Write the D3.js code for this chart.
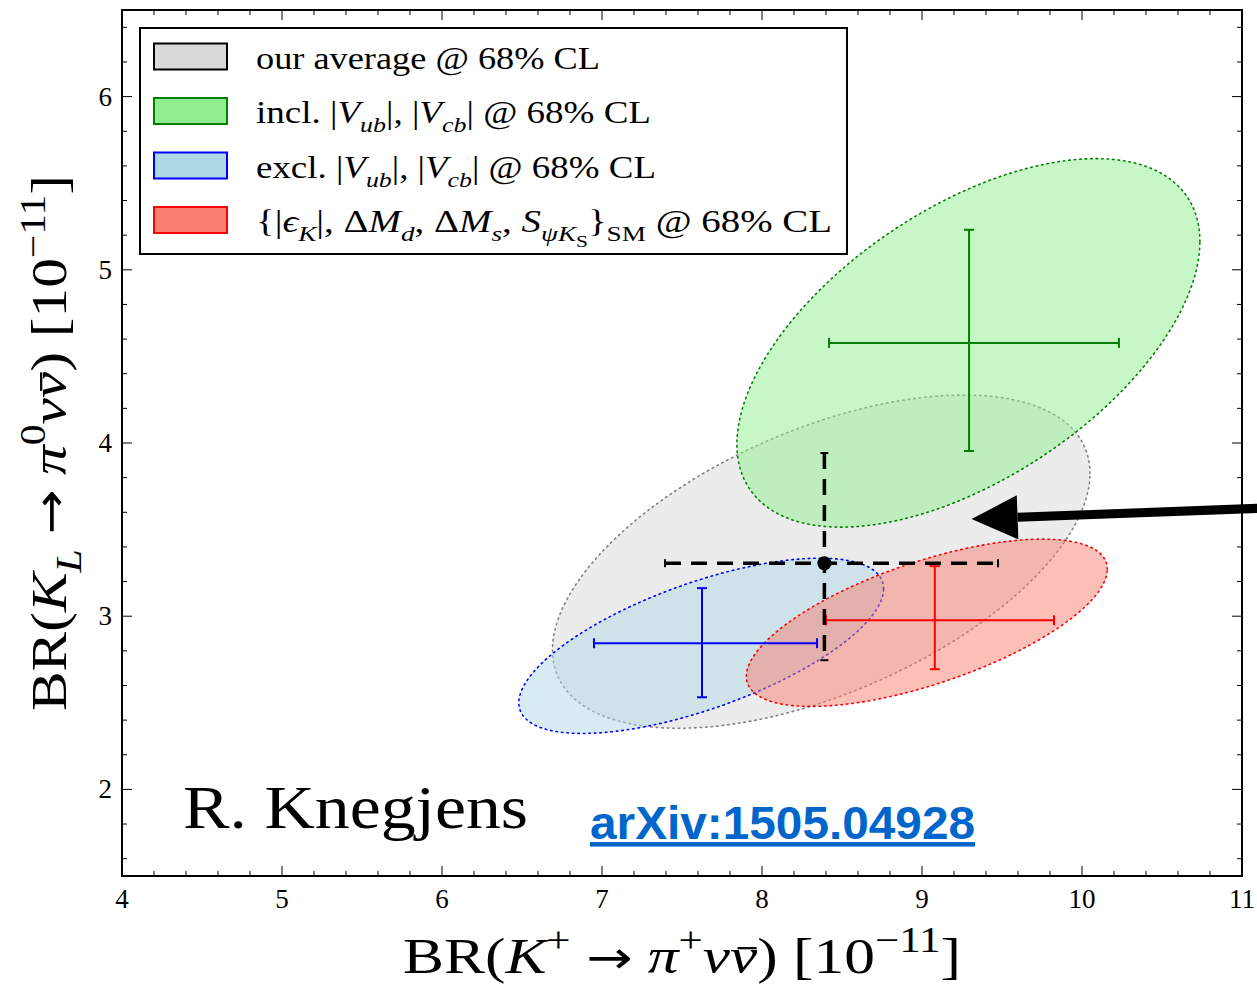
<!DOCTYPE html>
<html>
<head>
<meta charset="utf-8">
<script src="https://cdn.jsdelivr.net/npm/d3@7"></script>
<style>
  body { margin: 0; background: #fff; }
  svg { display: block; }
</style>
</head>
<body>
<svg id="chart" width="1257" height="986"></svg>
<script>
// ---- data ----
// ellipses (68% CL regions): center, half-extent in x / y, correlation
var ellNames = ['average', 'incl', 'excl', 'sm'];
var ellCx = [8.37, 9.29, 7.62, 9.03];
var ellCy = [3.315, 4.578, 2.829, 2.962];
var ellHx = [1.68, 1.447, 1.14, 1.128];
var ellHy = [0.962, 1.064, 0.506, 0.483];
var ellRho = [0.53, 0.55, 0.65, 0.64];

// central values with error bars (incl, excl, sm)
var ptX = [9.294, 7.625, 9.08];
var ptY = [4.578, 2.844, 2.977];
var ptXlo = [8.419, 6.95, 8.40];
var ptXhi = [10.231, 8.344, 9.825];
var ptYlo = [3.954, 2.532, 2.694];
var ptYhi = [5.231, 3.162, 3.289];

// our average (dashed error bars + dot)
var avgX = 8.39, avgY = 3.306;
var avgXlo = 7.394, avgXhi = 9.475;
var avgYlo = 2.746, avgYhi = 3.942;

// arrow annotation (data coordinates, tail lies outside the axes)
var arrowTip = [9.31, 3.561];
var arrowTail = [11.6, 3.64];

var xTicks = [4, 5, 6, 7, 8, 9, 10, 11];
var yTicks = [2, 3, 4, 5, 6];

// legend labels as [text, style] pieces: n normal, i italic, s subscript italic, r subscript roman,
// rr sub-sub roman, p superscript, a arrow, b italic char with a bar
var legendLabels = [
    [['our average @ 68% CL', 'n']],
    [['incl. |', 'n'], ['V', 'i'], ['ub', 's'], ['|, |', 'n'], ['V', 'i'], ['cb', 's'], ['| @ 68% CL', 'n']],
    [['excl. |', 'n'], ['V', 'i'], ['ub', 's'], ['|, |', 'n'], ['V', 'i'], ['cb', 's'], ['| @ 68% CL', 'n']],
    [['{|', 'n'], ['\u03f5', 'i'], ['K', 's'], ['|, \u0394', 'n'], ['M', 'i'], ['d', 's'], [', \u0394', 'n'], ['M', 'i'], ['s', 's'],
     [', ', 'n'], ['S', 'i'], ['\u03c8K', 's'], ['S', 'rr'], ['}', 'n'], ['SM', 'r'], [' @ 68% CL', 'n']]
];
var legendWidths = [344, 395, 400, 576];

var xLabel = [['BR(', 'n'], ['K', 'i'], ['+', 'p'], [' ', 'n'], ['\u2192', 'a'], [' ', 'n'], ['\u03c0', 'i'], ['+', 'p'],
    ['\u03bd', 'i'], ['\u03bd', 'b'], [') [10', 'n'], ['\u221211', 'p'], [']', 'n']];
var yLabel = [['BR(', 'n'], ['K', 'i'], ['L', 's'], [' ', 'n'], ['\u2192', 'a'], [' ', 'n'], ['\u03c0', 'i'], ['0', 'p'],
    ['\u03bd', 'i'], ['\u03bd', 'b'], [') [10', 'n'], ['\u221211', 'p'], [']', 'n']];

var fills = ['#d9d9d9', '#90ee90', '#add8e6', '#fa8072'];
var edges = ['#808080', '#008000', '#0000ff', '#ff0000'];
var legendEdges = ['#000000', '#008000', '#0000ff', '#ff0000'];
var barColors = ['#008000', '#0000ff', '#ff0000'];

// ---- layout ----
var svg = d3.select('#chart');
var serif = '"Liberation Serif", "DejaVu Serif", serif';

var x = d3.scaleLinear().domain([4, 11]).range([122, 1242]);
var y = d3.scaleLinear().domain([1.5, 6.5]).range([876, 10]);

// ellipses
var line = d3.line().curve(d3.curveLinearClosed);
var ellG = svg.append('g');
ellNames.forEach(function (key, i) {
    var pts = d3.range(0, 2 * Math.PI, Math.PI / 90).map(function (t) {
        var dx = ellHx[i] * Math.cos(t);
        var dy = ellHy[i] * (ellRho[i] * Math.cos(t) + Math.sqrt(1 - ellRho[i] * ellRho[i]) * Math.sin(t));
        return [x(ellCx[i] + dx), y(ellCy[i] + dy)];
    });
    ellG.append('path')
        .attr('d', line(pts))
        .attr('fill', fills[i])
        .attr('fill-opacity', 0.5)
        .attr('stroke', edges[i])
        .attr('stroke-width', 1.6)
        .attr('stroke-dasharray', '1.5,4')
        .attr('stroke-linecap', 'round');
});

// colored error bars
var barG = svg.append('g');
var cap = 5;
ptX.forEach(function (v, i) {
    var g = barG.append('g').attr('stroke', barColors[i]).attr('stroke-width', 2);
    g.append('line').attr('x1', x(ptXlo[i])).attr('x2', x(ptXhi[i])).attr('y1', y(ptY[i])).attr('y2', y(ptY[i]));
    g.append('line').attr('x1', x(v)).attr('x2', x(v)).attr('y1', y(ptYlo[i])).attr('y2', y(ptYhi[i]));
    [ptXlo[i], ptXhi[i]].forEach(function (e) {
        g.append('line').attr('x1', x(e)).attr('x2', x(e)).attr('y1', y(ptY[i]) - cap).attr('y2', y(ptY[i]) + cap);
    });
    [ptYlo[i], ptYhi[i]].forEach(function (e) {
        g.append('line').attr('x1', x(v) - cap).attr('x2', x(v) + cap).attr('y1', y(e)).attr('y2', y(e));
    });
});

// our average: dashed bars and dot
var avgG = svg.append('g').attr('stroke', '#000').attr('stroke-width', 3.5);
avgG.append('line').attr('x1', x(avgXlo)).attr('x2', x(avgXhi)).attr('y1', y(avgY)).attr('y2', y(avgY))
    .attr('stroke-dasharray', '16,10');
avgG.append('line').attr('x1', x(avgX)).attr('x2', x(avgX)).attr('y1', y(avgYhi)).attr('y2', y(avgYlo))
    .attr('stroke-dasharray', '16,10');
[avgXlo, avgXhi].forEach(function (e) {
    avgG.append('line').attr('x1', x(e)).attr('x2', x(e)).attr('y1', y(avgY) - 4).attr('y2', y(avgY) + 4).attr('stroke-width', 2);
});
[avgYlo, avgYhi].forEach(function (e) {
    avgG.append('line').attr('x1', x(avgX) - 4).attr('x2', x(avgX) + 4).attr('y1', y(e)).attr('y2', y(e)).attr('stroke-width', 2);
});
svg.append('circle').attr('cx', x(avgX)).attr('cy', y(avgY)).attr('r', 7).attr('fill', '#000');

// frame and ticks (inward, on all four sides)
var frame = svg.append('g');
frame.append('rect')
    .attr('x', x(4)).attr('y', y(6.5))
    .attr('width', x(11) - x(4)).attr('height', y(1.5) - y(6.5))
    .attr('fill', 'none').attr('stroke', '#000').attr('stroke-width', 2);

var xMinor = d3.range(4, 11.001, 0.2);
var yMinor = d3.range(1.6, 6.5, 0.2);
var tickG = frame.append('g').attr('stroke', '#000').attr('stroke-width', 1);
xMinor.forEach(function (v) {
    var major = Math.abs(v - Math.round(v)) < 1e-6;
    var len = major ? 10 : 5;
    tickG.append('line').attr('x1', x(v)).attr('x2', x(v)).attr('y1', y(1.5)).attr('y2', y(1.5) - len);
    tickG.append('line').attr('x1', x(v)).attr('x2', x(v)).attr('y1', y(6.5)).attr('y2', y(6.5) + len);
});
yMinor.forEach(function (v) {
    var major = Math.abs(v - Math.round(v)) < 1e-6;
    var len = major ? 10 : 5;
    tickG.append('line').attr('x1', x(4)).attr('x2', x(4) + len).attr('y1', y(v)).attr('y2', y(v));
    tickG.append('line').attr('x1', x(11)).attr('x2', x(11) - len).attr('y1', y(v)).attr('y2', y(v));
});

svg.append('g').selectAll('text').data(xTicks).enter().append('text')
    .attr('x', function (d) { return x(d); })
    .attr('y', y(1.5) + 32)
    .attr('text-anchor', 'middle')
    .attr('font-family', serif).attr('font-size', 27)
    .text(function (d) { return d; });

svg.append('g').selectAll('text').data(yTicks).enter().append('text')
    .attr('x', x(4) - 10)
    .attr('y', function (d) { return y(d) + 9; })
    .attr('text-anchor', 'end')
    .attr('font-family', serif).attr('font-size', 27)
    .text(function (d) { return d; });

// rich text helper: pieces of [text, style]
function richText(g, text, pieces, size) {
    var offs = { n: 0, i: 0, b: 0, a: 0, s: 0.3, r: 0.3, rr: 0.48, p: -0.42 };
    var sizes = { n: 1, i: 1, b: 1, a: 0.9, s: 0.7, r: 0.7, rr: 0.55, p: 0.7 };
    var cur = 0, idx = 0, bars = [];
    pieces.forEach(function (p) {
        var st = p[1];
        var off = offs[st] * size;
        var ts = text.append('tspan')
            .attr('dy', off - cur)
            .attr('font-size', sizes[st] * size)
            .attr('font-style', (st === 'i' || st === 's' || st === 'b') ? 'italic' : 'normal')
            .text(p[0]);
        if (st === 'a') ts.attr('font-family', '"DejaVu Sans", sans-serif');
        if (st === 'b') bars.push(idx);
        idx += p[0].length;
        cur = off;
    });
    return function () {
        var node = text.node();
        bars.forEach(function (ci) {
            var ext = node.getExtentOfChar(ci);
            var yy = ext.y + ext.height * 0.36;
            g.append('line')
                .attr('x1', ext.x + ext.width * 0.28).attr('x2', ext.x + ext.width * 0.98)
                .attr('y1', yy).attr('y2', yy)
                .attr('stroke', '#000').attr('stroke-width', size * 0.045);
        });
    };
}

function fitWidth(sel, w) {
    sel.attr('textLength', w).attr('lengthAdjust', 'spacingAndGlyphs');
}

// axis labels
var xg = svg.append('g').attr('transform', 'translate(' + ((x(4) + x(11)) / 2) + ',973)');
var xl = xg.append('text').attr('text-anchor', 'middle').attr('font-family', serif);
var xBars = richText(xg, xl, xLabel, 50);
fitWidth(xl, 558);
xBars();

var yg = svg.append('g').attr('transform', 'translate(66,' + ((y(1.5) + y(6.5)) / 2) + ') rotate(-90)');
var yl = yg.append('text').attr('text-anchor', 'middle').attr('font-family', serif);
var yBars = richText(yg, yl, yLabel, 50);
fitWidth(yl, 536);
yBars();

// legend
var leg = svg.append('g');
leg.append('rect').attr('x', 140).attr('y', 28).attr('width', 707).attr('height', 226)
    .attr('fill', '#fff').attr('stroke', '#000').attr('stroke-width', 2);
legendLabels.forEach(function (lab, i) {
    var cy = 56.5 + i * 54.5;
    leg.append('rect').attr('x', 154).attr('y', cy - 13).attr('width', 73).attr('height', 26)
        .attr('fill', fills[i]).attr('stroke', legendEdges[i]).attr('stroke-width', 2);
    var t = leg.append('text').attr('x', 256).attr('y', cy + 12).attr('font-family', serif);
    richText(leg, t, lab, 31);
    fitWidth(t, legendWidths[i]);
});

// annotations
var authorText = svg.append('text').attr('x', 183).attr('y', 828)
    .attr('font-family', serif).attr('font-size', 62)
    .text('R. Knegjens');
fitWidth(authorText, 345);
var arxivText = svg.append('text').attr('x', 590).attr('y', 839)
    .attr('font-family', '"Liberation Sans", Arial, sans-serif').attr('font-weight', 'bold')
    .attr('font-size', 46).attr('fill', '#0066cc')
    .attr('text-decoration', 'underline')
    .text('arXiv:1505.04928');
fitWidth(arxivText, 385);

// arrow pointing at our average
var tip = [x(arrowTip[0]), y(arrowTip[1])];
var tail = [x(arrowTail[0]), y(arrowTail[1])];
var ang = Math.atan2(tail[1] - tip[1], tail[0] - tip[0]);
var headLen = 46, headW = 22;
var bx = tip[0] + headLen * Math.cos(ang), by = tip[1] + headLen * Math.sin(ang);
svg.append('line').attr('x1', bx).attr('y1', by).attr('x2', tail[0]).attr('y2', tail[1])
    .attr('stroke', '#000').attr('stroke-width', 9);
svg.append('path')
    .attr('d', 'M' + tip + 'L' + [bx - headW * Math.sin(ang), by + headW * Math.cos(ang)] +
        'L' + [bx + headW * Math.sin(ang), by - headW * Math.cos(ang)] + 'Z')
    .attr('fill', '#000');
</script>
</body>
</html>
